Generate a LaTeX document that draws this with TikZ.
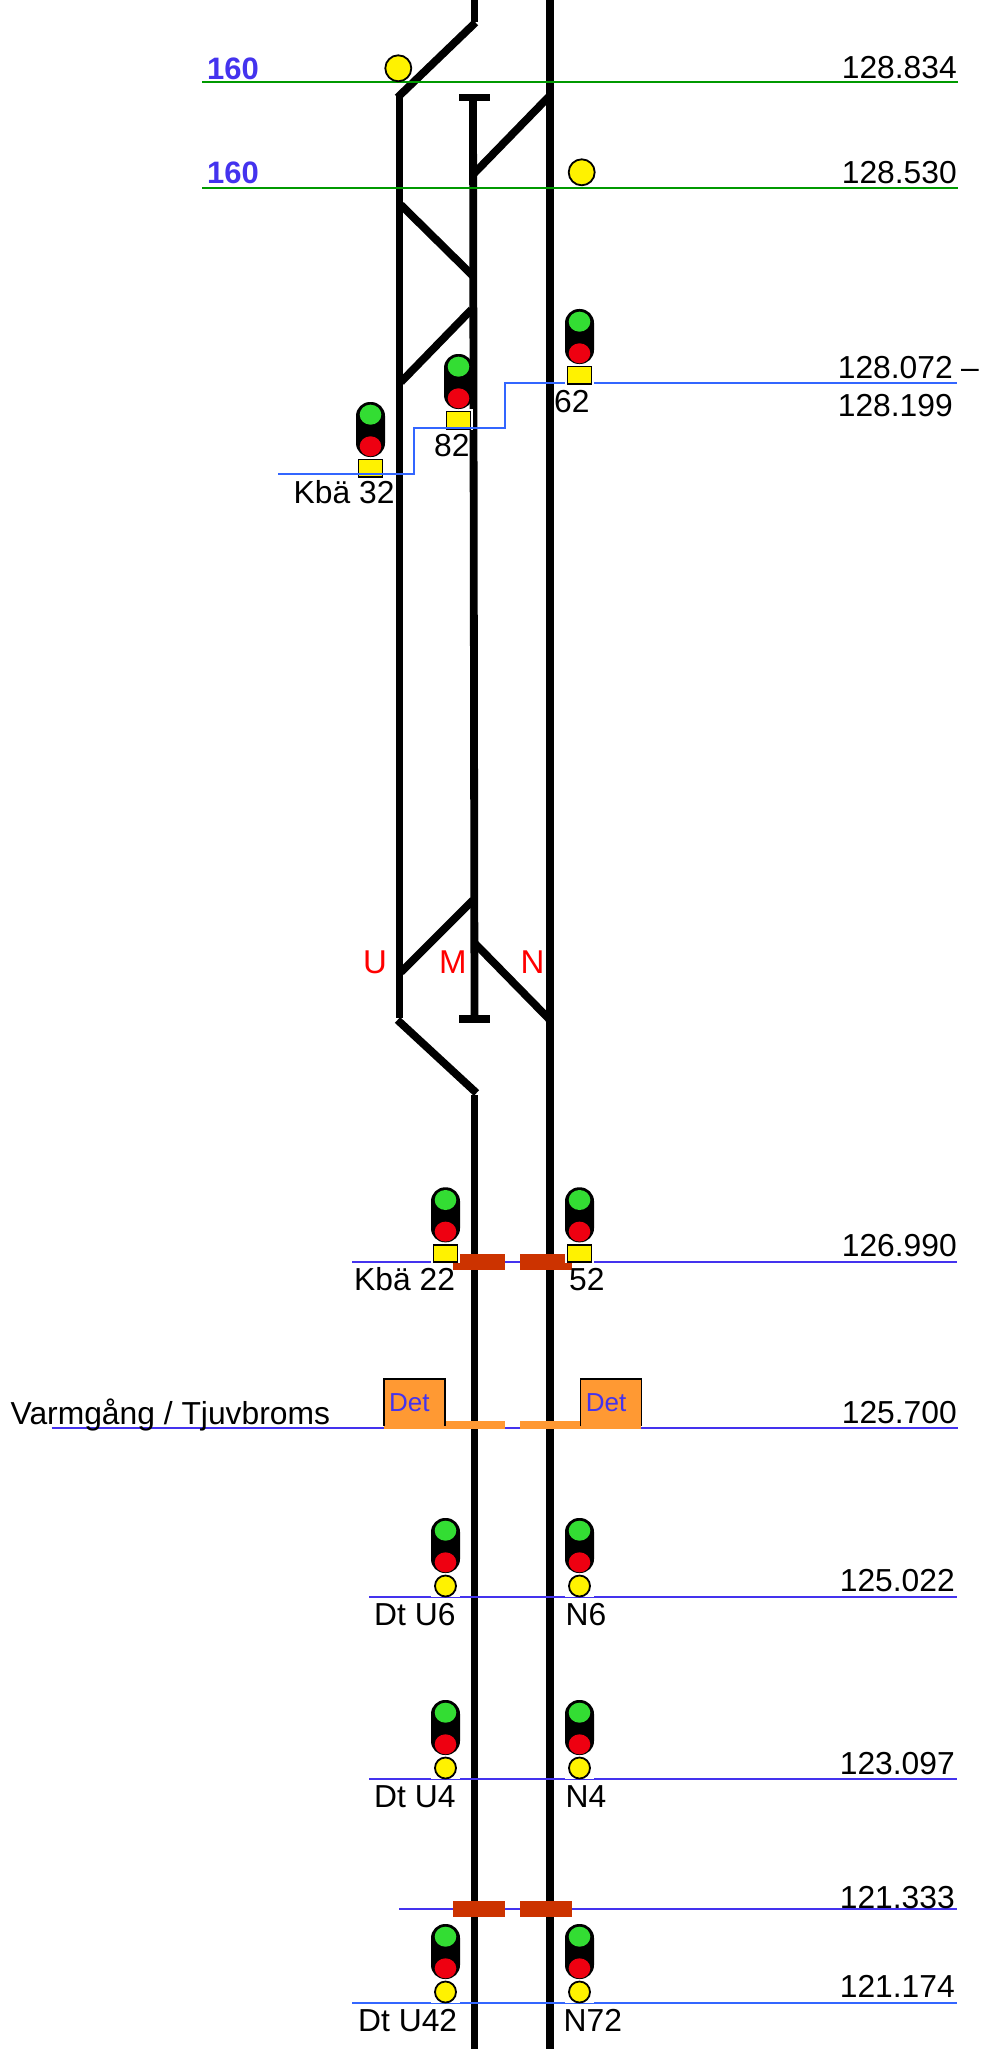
\documentclass[tikz,border=0pt]{standalone}
\usepackage{fontspec}
\setmainfont{Liberation Sans}
\definecolor{kmgreen}{HTML}{009900}
\definecolor{kmblue}{HTML}{4433EE}
\definecolor{kmsky}{HTML}{3366FF}
\definecolor{barred}{HTML}{CC3300}
\definecolor{detorange}{HTML}{FF9933}
\definecolor{siggreen}{HTML}{33DD33}
\definecolor{sigred}{HTML}{EE0011}
\tikzset{
  track/.style={line width=7.8pt},
  kmline/.style={line width=2pt,kmblue},
  kmtext/.style={inner sep=0pt,anchor=base east,font=\fontsize{31.8}{38}\selectfont},
  signame/.style={inner sep=0pt,anchor=base west,font=\fontsize{31.8}{38}\selectfont},
  speed/.style={inner sep=0pt,anchor=base west,text=kmblue,font=\fontsize{31}{36}\selectfont\bfseries},
  tracklabel/.style={inner sep=0pt,anchor=base west,text=red,font=\fontsize{33}{38}\selectfont},
  dettext/.style={inner sep=0pt,anchor=base west,text=kmblue,font=\fontsize{26}{30}\selectfont},
  yellowlamp/.style={circle,draw=black,line width=1.8pt,fill=yellow,minimum size=26pt,inner sep=0pt},
  sighead/.pic={
    \fill[black,rounded corners=14pt] (-14.5,0) rectangle (14.5,55);
    \fill[siggreen] (0,12.7) ellipse (10.8 and 10);
    \fill[sigred] (0,44.3) ellipse (10.8 and 10);
  },
  sigsq/.pic={
    \fill[white] (-14.5,55) rectangle (14.5,76);
    \pic {sighead};
    \draw[black,line width=1.8pt,fill=yellow] (-12,57.5) rectangle (12,75);
  },
  sigcirc/.pic={
    \fill[white] (-14.5,55) rectangle (14.5,79);
    \pic {sighead};
    \draw[black,line width=1.8pt,fill=yellow] (0,68) circle (10.5);
  }
}
\begin{document}
\begin{tikzpicture}[x=1pt,y=-1pt]
  \useasboundingbox (0,0) rectangle (988,2049);
  \coordinate (utop) at (399.5,96);
  \coordinate (ubot) at (399.5,1018);
  \coordinate (mtop) at (473,97);
  \coordinate (mbot) at (474.5,1019);
  \coordinate (min) at (474.5,1095);
  \coordinate (mout) at (474.5,0);
  \coordinate (ntop) at (550,0);
  \coordinate (nbot) at (550,2049);
  \draw[track] (utop) -- (ubot);
  \draw[track] (mtop) -- (mbot);
  \draw[track] (ntop) -- (nbot);
  \draw[track] (mout) -- (474.5,22);
  \draw[track] (min) -- (474.5,2049);
  \draw[track] (475.5,22.5) -- (397.5,97.5);
  \draw[track] (397.5,1020) -- (476.5,1093);
  \draw[track] (459.3,97.5) -- (490,97.5);
  \draw[track] (459.3,1019.3) -- (490,1019.3);
  \draw[track] (548.5,97) -- (474,173.5);
  \draw[track] (401,205) -- (473,276);
  \draw[track] (471.5,309.5) -- (401,382);
  \draw[track] (473,900) -- (401,972);
  \draw[track] (475.5,944) -- (549,1019);

  \draw[kmline,kmgreen] (202.3,82.3) -- (958.3,82.3);
  \draw[kmline,kmgreen] (202.3,188.3) -- (958.3,188.3);
  \draw[kmline] (352,1261.7) -- (956.7,1261.7);
  \draw[kmline] (51.7,1428) -- (958.3,1428);
  \draw[kmline] (369,1596.7) -- (956.7,1596.7);
  \draw[kmline] (369,1778.5) -- (956.7,1778.5);
  \draw[kmline] (399,1909) -- (956.7,1909);
  \draw[kmline,kmsky] (352,2002.7) -- (956.7,2002.7);

  \fill[barred] (453.3,1254) rectangle (505,1270);
  \fill[barred] (520,1254) rectangle (571.7,1270);
  \fill[barred] (453.3,1901) rectangle (505,1917);
  \fill[barred] (520,1901) rectangle (571.7,1917);

  \fill[detorange] (384,1420.7) rectangle (505,1429);
  \fill[detorange] (520,1420.7) rectangle (641,1429);
  \draw[line width=1.6pt,fill=detorange] (384,1426) |- (445,1379) -- (445,1426);
  \draw[line width=1.6pt,fill=detorange] (580.5,1426) |- (641.5,1379) -- (641.5,1426);
  \fill[detorange] (385,1420.7) rectangle (444,1429);
  \fill[detorange] (581.5,1420.7) rectangle (640.5,1429);
  \node[dettext] (detu) at (389,1411.7) {Det};
  \node[dettext] (detn) at (585.7,1411.7) {Det};

  \node[yellowlamp] (lampu) at (398.3,68.3) {};
  \node[yellowlamp] (lampn) at (581.7,172.3) {};

  \pic at (370.5,402) {sigsq};
  \pic at (458.5,354) {sigsq};
  \draw[kmline,kmsky] (278.3,474) -- (414,474) |- (505,428.3) |- (956.7,382.7);
  \pic at (579.5,309) {sigsq};
  \pic at (445.5,1187.3) {sigsq};
  \pic at (579.5,1187.3) {sigsq};
  \pic at (445.5,1518) {sigcirc};
  \pic at (579.5,1518) {sigcirc};
  \pic at (445.5,1700) {sigcirc};
  \pic at (579.5,1700) {sigcirc};
  \pic at (445.5,1924) {sigcirc};
  \pic at (579.5,1924) {sigcirc};

  \node[speed] (speedtop) at (207,80) {160};
  \node[speed] (speedlow) at (207,184) {160};

  \node[kmtext] (km834) at (957,78.3) {128.834};
  \node[kmtext] (km530) at (957,184) {128.530};
  \node[kmtext] (km072) at (953,378.3) {128.072};
  \node[signame] (kmdash) at (961,378.3) {–};
  \node[kmtext] (km199) at (953,416.7) {128.199};
  \node[kmtext] (km990) at (957,1256.7) {126.990};
  \node[kmtext] (km700) at (957,1423.3) {125.700};
  \node[kmtext] (km022) at (955,1591.7) {125.022};
  \node[kmtext] (km097) at (955,1774) {123.097};
  \node[kmtext] (km333) at (955,1908) {121.333};
  \node[kmtext] (km174) at (955,1997.7) {121.174};

  \node[signame] (kba32) at (293.5,503) {Kbä 32};
  \node[signame] (s82) at (434,456.7) {82};
  \node[signame] (s62) at (554,412) {62};
  \node[signame] (kba22) at (354,1290) {Kbä 22};
  \node[signame] (s52) at (569,1290) {52};
  \node[signame] (dtu6) at (374,1625) {Dt U6};
  \node[signame] (n6) at (565.5,1625) {N6};
  \node[signame] (dtu4) at (374,1807) {Dt U4};
  \node[signame] (n4) at (565.5,1807) {N4};
  \node[signame] (dtu42) at (358,2031) {Dt U42};
  \node[signame] (n72) at (563.5,2031) {N72};
  \node[signame] (varm) at (10.5,1424.3) {Varmgång / Tjuvbroms};

  \node[tracklabel] (lblu) at (363,973.3) {U};
  \node[tracklabel] (lblm) at (439,973.3) {M};
  \node[tracklabel] (lbln) at (520.5,973.3) {N};
\end{tikzpicture}
\end{document}
